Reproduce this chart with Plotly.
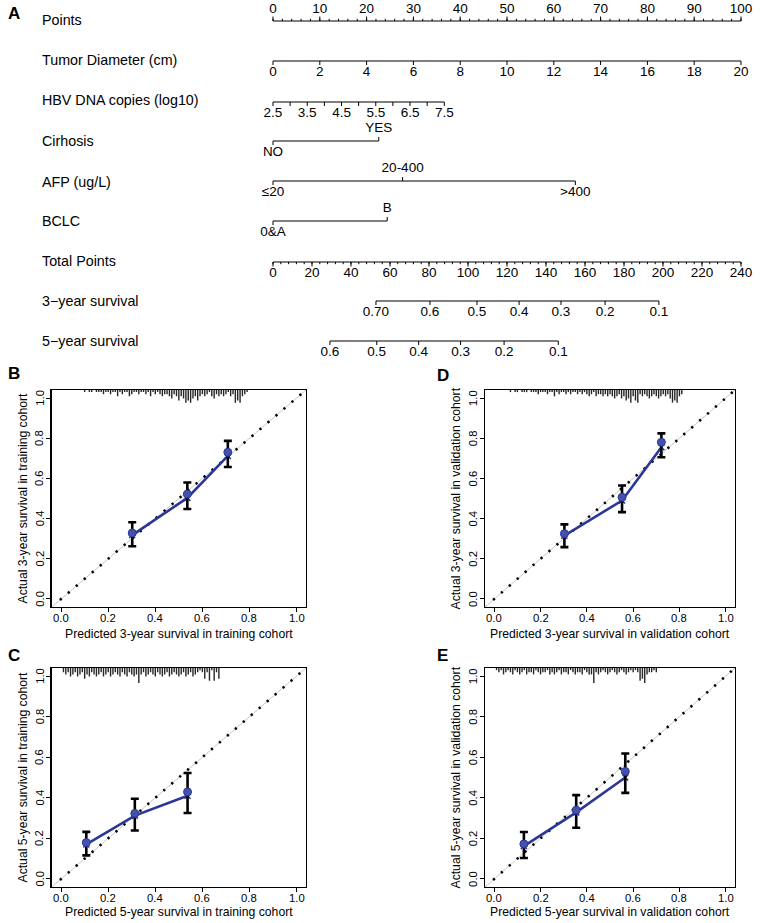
import plotly.graph_objects as go

W, H = 764, 923
FONT = "Liberation Sans, Arial, Helvetica, sans-serif"

# ======================= NOMOGRAM DATA =======================
points_labels = [0, 10, 20, 30, 40, 50, 60, 70, 80, 90, 100]
points_minor = list(range(0, 101, 2))

tumor_labels = [0, 2, 4, 6, 8, 10, 12, 14, 16, 18, 20]
tumor_range = [0, 20]
tumor_points = [0, 100]

hbv_labels = [2.5, 3.5, 4.5, 5.5, 6.5, 7.5]
hbv_ticks = [2.5, 3.0, 3.5, 4.0, 4.5, 5.0, 5.5, 6.0, 6.5, 7.0, 7.5]
hbv_range = [2.5, 7.5]
hbv_points = [0, 36.6]

cirr_levels = ["NO", "YES"]
cirr_points = [0, 22.6]

afp_levels = ["≤20", "20-400", ">400"]
afp_points = [0, 27.7, 64.6]

bclc_levels = ["0&A", "B"]
bclc_points = [0, 24.4]

total_labels = [0, 20, 40, 60, 80, 100, 120, 140, 160, 180, 200, 220, 240]
total_minor = list(range(0, 241, 4))
total_max = 240

surv3_labels = ["0.70", "0.6", "0.5", "0.4", "0.3", "0.2", "0.1"]
surv3_total = [52.8, 80.5, 104.6, 126.2, 147.7, 170.3, 197.9]

surv5_labels = ["0.6", "0.5", "0.4", "0.3", "0.2", "0.1"]
surv5_total = [29.2, 53.2, 74.7, 96.2, 118.5, 146.3]

row_names = ["Points", "Tumor Diameter (cm)", "HBV DNA copies (log10)", "Cirhosis",
             "AFP (ug/L)", "BCLC", "Total Points", "3\u2212year survival", "5\u2212year survival"]

# ======================= CALIBRATION DATA =======================
RUG_BIN = 0.01

B_pred = [0.302, 0.536, 0.708]
B_obs = [0.328, 0.522, 0.730]
B_lo = [0.262, 0.448, 0.657]
B_hi = [0.382, 0.580, 0.787]
B_corr = [0.318, 0.503, 0.712]
B_rug_start = 0.10
B_rug_n = [1, 0, 1, 1, 0, 1, 1, 1, 2, 1,
           1, 2, 1, 1, 3, 1, 2, 1, 1, 3,
           2, 1, 1, 2, 1, 1, 2, 1, 3, 1,
           2, 1, 2, 3, 2, 2, 3, 4, 2, 3,
           5, 3, 4, 6, 5, 6, 4, 3, 5, 3,
           2, 3, 2, 1, 3, 4, 2, 3, 2, 3,
           2, 1, 3, 2, 6, 5, 6, 3, 2, 1]

D_pred = [0.303, 0.552, 0.722]
D_obs = [0.325, 0.506, 0.780]
D_lo = [0.258, 0.432, 0.705]
D_hi = [0.371, 0.565, 0.824]
D_corr = [0.315, 0.490, 0.755]
D_rug_start = 0.07
D_rug_n = [1, 0, 1, 1, 0, 1, 1, 1, 0, 1,
           1, 1, 2, 1, 1, 1, 2, 1, 1, 3,
           1, 2, 1, 1, 2, 1, 2, 1, 1, 2,
           1, 2, 1, 2, 3, 2, 1, 3, 2, 2,
           3, 2, 3, 2, 3, 4, 3, 2, 4, 3,
           5, 4, 6, 3, 5, 6, 2, 3, 2, 3,
           4, 3, 2, 3, 4, 3, 2, 3, 2, 4,
           6, 5, 6, 3, 2]

C_pred = [0.107, 0.313, 0.537]
C_obs = [0.179, 0.323, 0.429]
C_lo = [0.116, 0.239, 0.325]
C_hi = [0.232, 0.395, 0.522]
C_corr = [0.170, 0.312, 0.410]
C_rug_start = 0.01
C_rug_n = [2, 3, 2, 4, 3, 2, 4, 3, 2, 5,
           3, 4, 2, 3, 4, 3, 2, 4, 3, 2,
           4, 3, 2, 3, 4, 2, 3, 4, 2, 3,
           4, 3, 7, 3, 2, 4, 3, 2, 3, 4,
           2, 3, 4, 3, 2, 4, 3, 2, 3, 4,
           3, 2, 4, 3, 2, 4, 3, 2, 1, 2,
           5, 2, 6, 1, 6, 2, 5]

E_pred = [0.128, 0.354, 0.566]
E_obs = [0.172, 0.339, 0.530]
E_lo = [0.103, 0.252, 0.424]
E_hi = [0.231, 0.413, 0.618]
E_corr = [0.162, 0.328, 0.500]
E_rug_start = 0.01
E_rug_n = [1, 2, 1, 3, 2, 1, 2, 3, 1, 2,
           3, 2, 1, 3, 2, 2, 3, 1, 2, 3,
           2, 2, 1, 3, 2, 3, 2, 1, 3, 2,
           2, 3, 1, 2, 3, 2, 2, 3, 1, 2,
           3, 3, 7, 2, 3, 2, 1, 2, 3, 2,
           1, 2, 3, 2, 1, 2, 3, 2, 1, 2,
           1, 2, 6, 5, 7, 3, 2, 2, 1, 2]

calib_ticks = [0.0, 0.2, 0.4, 0.6, 0.8, 1.0]

# ======================= LAYOUT CONSTANTS =======================
NOMO_X0, NOMO_X1 = 273, 741           # pixel x of 0 and 100 points
PX_PER_PT = (NOMO_X1 - NOMO_X0) / 100.0
LABEL_X = 40
row_label_y = [20, 60, 100, 141, 182, 221, 261, 301, 341]
LINE_Y = dict(points=21, tumor=61, hbv=102, cirr=141, afp=181, bclc=221, total=262, s3=301, s5=341)
TXT_FS = 13.5
ROW_FS = 14.3
CAL_TITLE_FS = 12.2
CAL_TICK_FS = 11.3

fig = go.Figure()


def seg_trace(xs, ys, width=1.1, color="black", xa="x", ya="y", dash=None):
    fig.add_trace(go.Scatter(x=xs, y=ys, mode="lines", xaxis=xa, yaxis=ya,
                             line=dict(color=color, width=width, dash=dash),
                             hoverinfo="skip", showlegend=False, cliponaxis=False))


def hline(x0, x1, y):
    seg_trace([x0, x1], [y, y])


def ticks(xs, y, length, width=1.0):
    X, Y = [], []
    for v in xs:
        X += [v, v, None]
        Y += [y, y + length, None]
    seg_trace(X, Y, width=width)


def texts(xs, y, strings, size=TXT_FS):
    fig.add_trace(go.Scatter(x=xs, y=[y] * len(xs), text=strings, mode="text",
                             textposition="middle center",
                             textfont=dict(family=FONT, size=size, color="black"),
                             hoverinfo="skip", showlegend=False, cliponaxis=False))


def lin(v, vr, pr):
    return pr[0] + (v - vr[0]) / (vr[1] - vr[0]) * (pr[1] - pr[0])


def fmt(v):
    return ("%g" % v)

# Points axis (ticks up, labels above)
y = LINE_Y["points"]
hline(0, 100, y)
ticks(points_minor, y, -2.2)
ticks(points_labels, y, -4.5)
texts(points_labels, y - 11, [fmt(v) for v in points_labels])

# Tumor diameter
y = LINE_Y["tumor"]
tp = [lin(v, tumor_range, tumor_points) for v in tumor_labels]
hline(tp[0], tp[-1], y)
ticks(tp, y, 4)
texts(tp, y + 12, [fmt(v) for v in tumor_labels])

# HBV DNA
y = LINE_Y["hbv"]
hp = [lin(v, hbv_range, hbv_points) for v in hbv_ticks]
hl = [lin(v, hbv_range, hbv_points) for v in hbv_labels]
hline(hp[0], hp[-1], y)
ticks(hp, y, 4)
texts(hl, y + 12, [fmt(v) for v in hbv_labels])


def categorical(levels, pts, y):
    hline(min(pts), max(pts), y)
    for i, (lv, p) in enumerate(zip(levels, pts)):
        d = 1 if i % 2 == 0 else -1
        ticks([p], y, 4 * d)
        texts([p], y + 12 * d, [lv])


categorical(cirr_levels, cirr_points, LINE_Y["cirr"])
categorical(afp_levels, afp_points, LINE_Y["afp"])
categorical(bclc_levels, bclc_points, LINE_Y["bclc"])

# Total points
y = LINE_Y["total"]
to_pts = lambda t: t * 100.0 / total_max
hline(0, 100, y)
ticks([to_pts(t) for t in total_minor], y, 2.2)
ticks([to_pts(t) for t in total_labels], y, 4.5)
texts([to_pts(t) for t in total_labels], y + 12, [fmt(v) for v in total_labels])

# Survival axes
for key, labs, tot in [("s3", surv3_labels, surv3_total), ("s5", surv5_labels, surv5_total)]:
    y = LINE_Y[key]
    px = [to_pts(t) for t in tot]
    hline(px[0], px[-1], y)
    ticks(px, y, 4)
    texts(px, y + 12, labs)

annotations = []
for name, yy in zip(row_names, row_label_y):
    annotations.append(dict(text=name, xref="paper", x=LABEL_X / W, xanchor="left",
                            yref="y", y=yy, yanchor="middle", showarrow=False,
                            font=dict(family=FONT, size=ROW_FS, color="black")))

# ======================= CALIBRATION PANELS =======================
BLUE = "#2b3796"
panels = [
    ("B", 2, (51.7, 390, 306, 607),
     (B_pred, B_obs, B_lo, B_hi, B_corr, B_rug_start, B_rug_n),
     "Predicted 3-year survival in training cohort", "Actual 3-year survival in training cohort",
     (14, 373), 634, 22),
    ("D", 3, (485, 390, 735, 607),
     (D_pred, D_obs, D_lo, D_hi, D_corr, D_rug_start, D_rug_n),
     "Predicted 3-year survival in validation cohort", "Actual 3-year survival in validation cohort",
     (443, 375), 634, 455),
    ("C", 4, (51.7, 668, 306, 887),
     (C_pred, C_obs, C_lo, C_hi, C_corr, C_rug_start, C_rug_n),
     "Predicted 5-year survival in training cohort", "Actual 5-year survival in training cohort",
     (14, 655), 912, 22),
    ("E", 5, (485, 668, 735, 887),
     (E_pred, E_obs, E_lo, E_hi, E_corr, E_rug_start, E_rug_n),
     "Predicted 5-year survival in validation cohort", "Actual 5-year survival in validation cohort",
     (443, 655), 911.5, 455),
]

RNG = [-0.04, 1.04]
RUG_UNIT = 0.0105
TICK_GAP_X = 10.5   # px from box bottom to x tick label centre
TICK_GAP_Y = 12     # px from box left to y tick label centre

layout_axes = {}
for letter, k, (l, t, r, b), data, xt, yt, (lx, ly), xty, ytx in panels:
    pred, obs, lo, hi, corr, rstart, rn = data
    xa, ya = "x%d" % k, "y%d" % k
    axis_common = dict(range=RNG, showgrid=False, zeroline=False, showline=True, mirror=True,
                       linecolor="black", linewidth=1.4, ticks="outside", ticklen=4, tickwidth=1,
                       tickcolor="black", tickvals=calib_ticks, showticklabels=False)
    layout_axes["xaxis%d" % k] = dict(axis_common, domain=[l / W, r / W], anchor=ya)
    layout_axes["yaxis%d" % k] = dict(axis_common, domain=[1 - b / H, 1 - t / H], anchor=xa)
    # tick labels
    for v in calib_ticks:
        annotations.append(dict(text="%.1f" % v, xref=xa, x=v, xanchor="center",
                                yref="paper", y=1 - (b + TICK_GAP_X) / H, yanchor="middle",
                                showarrow=False,
                                font=dict(family=FONT, size=CAL_TICK_FS, color="black")))
        annotations.append(dict(text="%.1f" % v, xref="paper", x=(l - TICK_GAP_Y) / W,
                                xanchor="center", yref=ya, y=v, yanchor="middle",
                                textangle=-90, showarrow=False,
                                font=dict(family=FONT, size=CAL_TICK_FS, color="black")))
    # gray ideal line
    seg_trace([RNG[0], RNG[1]], [RNG[0], RNG[1]], width=1, color="#c8c8c8", xa=xa, ya=ya)
    # dotted ideal line
    seg_trace([-0.005, RNG[1]], [-0.005, RNG[1]], width=2.6, color="black", xa=xa, ya=ya,
              dash="2.2px,8.3px")
    # histogram spikes at top (binned predicted values)
    X, Y = [], []
    for i, n in enumerate(rn):
        if n <= 0:
            continue
        px_ = rstart + i * RUG_BIN
        X += [px_, px_, None]
        Y += [RNG[1], RNG[1] - n * RUG_UNIT, None]
    seg_trace(X, Y, width=1.4, color="#262626", xa=xa, ya=ya)
    # blue calibration line
    fig.add_trace(go.Scatter(x=pred, y=corr, mode="lines+markers", xaxis=xa, yaxis=ya,
                             line=dict(color=BLUE, width=2.6),
                             marker=dict(symbol="x-thin", size=6, line=dict(color=BLUE, width=1.5)),
                             hoverinfo="skip", showlegend=False))
    # observed points with error bars
    fig.add_trace(go.Scatter(x=pred, y=obs, mode="markers", xaxis=xa, yaxis=ya,
                             marker=dict(color="#4451ad", size=8,
                                         line=dict(color="#2b3796", width=1)),
                             error_y=dict(type="data", symmetric=False,
                                          array=[h - o for h, o in zip(hi, obs)],
                                          arrayminus=[o - q for o, q in zip(obs, lo)],
                                          color="black", thickness=2.6, width=4),
                             hoverinfo="skip", showlegend=False))
    annotations.append(dict(text=xt, xref="paper", x=(l + r) / 2 / W, xanchor="center",
                            yref="paper", y=1 - xty / H, yanchor="middle", showarrow=False,
                            font=dict(family=FONT, size=CAL_TITLE_FS, color="black")))
    annotations.append(dict(text=yt, xref="paper", x=ytx / W, xanchor="center",
                            yref="paper", y=1 - (t + b) / 2 / H, yanchor="middle", showarrow=False,
                            textangle=-90, font=dict(family=FONT, size=CAL_TITLE_FS, color="black")))
    annotations.append(dict(text="<b>%s</b>" % letter, xref="paper", x=lx / W, xanchor="center",
                            yref="paper", y=1 - ly / H, yanchor="middle", showarrow=False,
                            font=dict(family=FONT, size=17, color="black")))

annotations.append(dict(text="<b>A</b>", xref="paper", x=14 / W, xanchor="center",
                        yref="paper", y=1 - 14 / H, yanchor="middle", showarrow=False,
                        font=dict(family=FONT, size=17, color="black")))

fig.update_layout(
    width=W, height=H, margin=dict(l=0, r=0, t=0, b=0),
    paper_bgcolor="white", plot_bgcolor="white", showlegend=False,
    xaxis=dict(domain=[0, 1], range=[-NOMO_X0 / PX_PER_PT, (W - NOMO_X0) / PX_PER_PT],
               visible=False, fixedrange=True),
    yaxis=dict(domain=[0, 1], range=[H, 0], visible=False, fixedrange=True),
    annotations=annotations,
    **layout_axes,
)

fig.write_html("out.html", config={"displayModeBar": False, "staticPlot": True},
               post_script="document.body.style.margin='0';document.body.style.padding='0';"
                           "document.documentElement.style.overflow='hidden';")
